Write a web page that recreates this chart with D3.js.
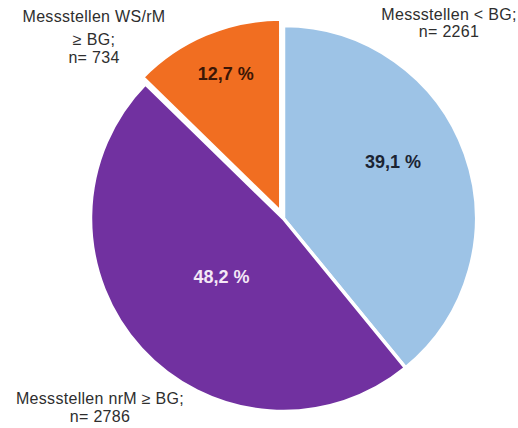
<!DOCTYPE html>
<html>
<head>
<meta charset="utf-8">
<script src="https://cdn.jsdelivr.net/npm/d3@7"></script>
<style>
  html, body { margin: 0; padding: 0; background: #fff; }
  svg { display: block; }
  text { font-family: "Liberation Sans", Arial, sans-serif; }
</style>
</head>
<body>
<svg id="chart" width="518" height="428"></svg>
<script>
// Messstellen by class, counts and shares (%)
const categories = ["Messstellen < BG;", "Messstellen nrM \u2265 BG;", "Messstellen WS/rM \u2265 BG;"];
const counts = [2261, 2786, 734];
const shares = [39.1, 48.2, 12.7];
const colors = ["#9dc3e6", "#7131a0", "#f16e21"];
const shareTextColors = ["#1b2433", "#f4e8f6", "#3b1606"];

const width = 518, height = 428;
const cx = 283.5, cy = 218.5, radius = 193;

// per-slice layout: explode offset, label radius fraction, label angle shift (rad)
const explode = [0, 0, 7];
const labelR = [0.64, 0.44, 0.77];
const labelShift = [-0.14, -0.01, 0.02];

const svg = d3.select("#chart");

const pie = d3.pie().sort(null).value(d => d)(shares);
const arc = d3.arc().innerRadius(0).outerRadius(radius);

const g = svg.append("g").attr("transform", `translate(${cx},${cy})`);

const slices = g.selectAll("g.slice")
  .data(pie)
  .join("g")
  .attr("class", "slice")
  .attr("transform", (d, i) => {
    const a = (d.startAngle + d.endAngle) / 2;
    return `translate(${Math.sin(a) * explode[i]},${-Math.cos(a) * explode[i]})`;
  });

slices.append("path")
  .attr("d", arc)
  .attr("fill", (d, i) => colors[i])
  .attr("stroke", "#fff")
  .attr("stroke-width", 3.5)
  .attr("stroke-linejoin", "round");

slices.append("text")
  .attr("transform", (d, i) => {
    const a = (d.startAngle + d.endAngle) / 2 + labelShift[i];
    const r = radius * labelR[i];
    return `translate(${Math.sin(a) * r},${-Math.cos(a) * r})`;
  })
  .attr("text-anchor", "middle")
  .attr("dy", "0.36em")
  .attr("font-size", 18)
  .attr("font-weight", "bold")
  .attr("fill", (d, i) => shareTextColors[i])
  .text(d => d3.format(".1f")(d.data).replace(".", ",") + " %");

// outer category labels
const outer = [
  { x: 449, lines: [[categories[0], 14], ["n= " + counts[0], 31]] },
  { x: 94, lines: [["Messstellen WS/rM", 16], ["\u2265 BG;", 39], ["n= " + counts[2], 57]] },
  { x: 100, lines: [[categories[1], 398], ["n= " + counts[1], 416]] }
];

outer.forEach(lbl => {
  lbl.lines.forEach(([t, y]) => {
    svg.append("text")
      .attr("x", lbl.x)
      .attr("y", y)
      .attr("dy", "0.36em")
      .attr("text-anchor", "middle")
      .attr("font-size", 16)
      .attr("letter-spacing", 0.3)
      .attr("fill", "#2e2e2e")
      .text(t);
  });
});
</script>
</body>
</html>
